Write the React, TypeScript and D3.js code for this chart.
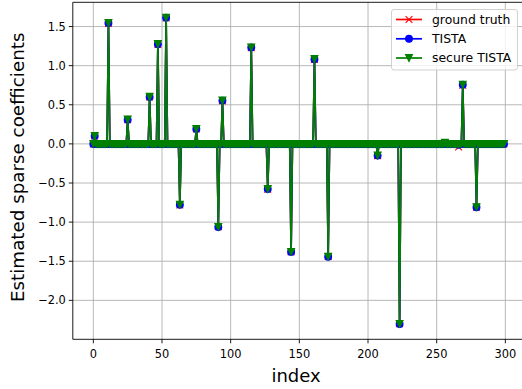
import React from 'react';
import * as d3 from 'd3';

const N = 300;
const xTicks = [0, 50, 100, 150, 200, 250, 300];
const yTicks = [1.5, 1.0, 0.5, 0.0, -0.5, -1.0, -1.5, -2.0];
const spikeIndex = [1, 11, 25, 41, 47, 53, 63, 75, 91, 94, 115, 127, 144, 161, 171, 207, 223, 256, 266, 269, 279];
const groundTruth = [0.10, 1.54, 0.31, 0.60, 1.27, 1.61, -0.78, 0.19, -1.06, 0.55, 1.23, -0.58, -1.38, 1.08, -1.44, -0.15, -2.30, 0.0, -0.04, 0.75, -0.81];
const tista = [0.10, 1.545, 0.31, 0.60, 1.275, 1.612, -0.778, 0.19, -1.063, 0.553, 1.233, -0.578, -1.382, 1.083, -1.442, -0.15, -2.302, 0.0, -0.01, 0.755, -0.81];
const secureTista = [0.102, 1.546, 0.312, 0.602, 1.276, 1.614, -0.777, 0.192, -1.062, 0.554, 1.234, -0.577, -1.381, 1.084, -1.441, -0.149, -2.301, 0.015, 0.0, 0.757, -0.809];
const seriesNames = ['ground truth', 'TISTA', 'secure TISTA'];
const seriesColors = ['#ff0000', '#0000ff', '#008000'];

function build(vals: number[]): number[] {
  const arr = new Array(N).fill(0);
  spikeIndex.forEach((k, i) => { arr[k] = vals[i]; });
  return arr;
}

const W = 522, H = 389;
const L = 72.8, R = 524.5, T = 2.3, B = 339.3;
const FONT = 'DejaVu Sans, sans-serif';
const MS = 3.4;

function Marker({ kind, color, x, y }: { kind: number; color: string; x: number; y: number }) {
  if (kind === 0) {
    return <path d={`M${x - MS},${y - MS}L${x + MS},${y + MS}M${x - MS},${y + MS}L${x + MS},${y - MS}`} stroke={color} strokeWidth={1.13} fill="none" />;
  }
  if (kind === 1) {
    return <circle cx={x} cy={y} r={MS} fill={color} stroke={color} strokeWidth={1.13} />;
  }
  return <path d={`M${x},${y + MS}L${x - MS},${y - MS}L${x + MS},${y - MS}Z`} fill={color} stroke={color} strokeWidth={1.13} strokeLinejoin="miter" />;
}

export default function App() {
  const series = [build(groundTruth), build(tista), build(secureTista)];
  const all = series.flat();
  const [mn, mx] = d3.extent(all) as [number, number];
  const pad = (mx - mn) * 0.05;
  const x = d3.scaleLinear().domain([-(N - 1) * 0.05, (N - 1) * 1.05]).range([L, R]);
  const y = d3.scaleLinear().domain([mn - pad, mx + pad]).range([B, T]);
  const line = d3.line<number>().x((_, i) => x(i)).y(d => y(d));
  const fmt = (v: number) => (v < 0 ? '\u2212' : '') + Math.abs(v).toFixed(1);

  const lgX = 391.5, lgY = 9.5, lgW = 126, lgH = 60.5;
  const rows = [19.5, 38.8, 58];

  return (
    <svg width={W} height={H} style={{ position: 'absolute', left: 0, top: 0, background: '#fff' }} fontFamily={FONT}>
      <defs>
        <clipPath id="plotclip"><rect x={L} y={T} width={R - L} height={B - T} /></clipPath>
      </defs>
      <rect x={0} y={0} width={W} height={H} fill="#fff" />
      {xTicks.map(t => <line key={'gx' + t} x1={x(t)} x2={x(t)} y1={T} y2={B} stroke="#b0b0b0" strokeWidth={0.9} />)}
      {yTicks.map(t => <line key={'gy' + t} x1={L} x2={R} y1={y(t)} y2={y(t)} stroke="#b0b0b0" strokeWidth={0.9} />)}
      <g clipPath="url(#plotclip)">
        {series.map((s, si) => (
          <g key={si}>
            <path d={line(s) || ''} fill="none" stroke={seriesColors[si]} strokeWidth={1.7} strokeLinejoin="round" />
            {s.map((v, i) => <Marker key={i} kind={si} color={seriesColors[si]} x={x(i)} y={y(v)} />)}
          </g>
        ))}
      </g>
      <line x1={L} x2={L} y1={T} y2={B} stroke="#000" strokeWidth={0.9} />
      <line x1={L} x2={R} y1={B} y2={B} stroke="#000" strokeWidth={0.9} />
      <line x1={L} x2={R} y1={T} y2={T} stroke="#000" strokeWidth={0.9} />
      <line x1={R} x2={R} y1={T} y2={B} stroke="#000" strokeWidth={0.9} />
      {xTicks.map(t => (
        <g key={'xt' + t}>
          <line x1={x(t)} x2={x(t)} y1={B} y2={B + 4} stroke="#000" strokeWidth={0.9} />
          <text x={x(t)} y={358.3} fontSize={11.4} textAnchor="middle" fill="#000">{t}</text>
        </g>
      ))}
      {yTicks.map(t => (
        <g key={'yt' + t}>
          <line x1={L - 4} x2={L} y1={y(t)} y2={y(t)} stroke="#000" strokeWidth={0.9} />
          <text x={L - 7} y={y(t)} dy="0.36em" fontSize={11.4} textAnchor="end" fill="#000">{fmt(t)}</text>
        </g>
      ))}
      <text x={296} y={381.5} fontSize={18} textAnchor="middle" fill="#000">index</text>
      <text transform={`translate(24,${(T + B) / 2 - 3.5}) rotate(-90)`} fontSize={18.3} textAnchor="middle" fill="#000">Estimated sparse coefficients</text>
      <rect x={lgX} y={lgY} width={lgW} height={lgH} rx={2.5} fill="#fff" fillOpacity={0.8} stroke="#cccccc" strokeWidth={0.9} />
      {seriesNames.map((nm, i) => (
        <g key={nm}>
          <line x1={396} x2={422} y1={rows[i]} y2={rows[i]} stroke={seriesColors[i]} strokeWidth={1.7} />
          <Marker kind={i} color={seriesColors[i]} x={409} y={rows[i]} />
          <text x={432} y={rows[i]} dy="0.36em" fontSize={12.4} fill="#000">{nm}</text>
        </g>
      ))}
    </svg>
  );
}
